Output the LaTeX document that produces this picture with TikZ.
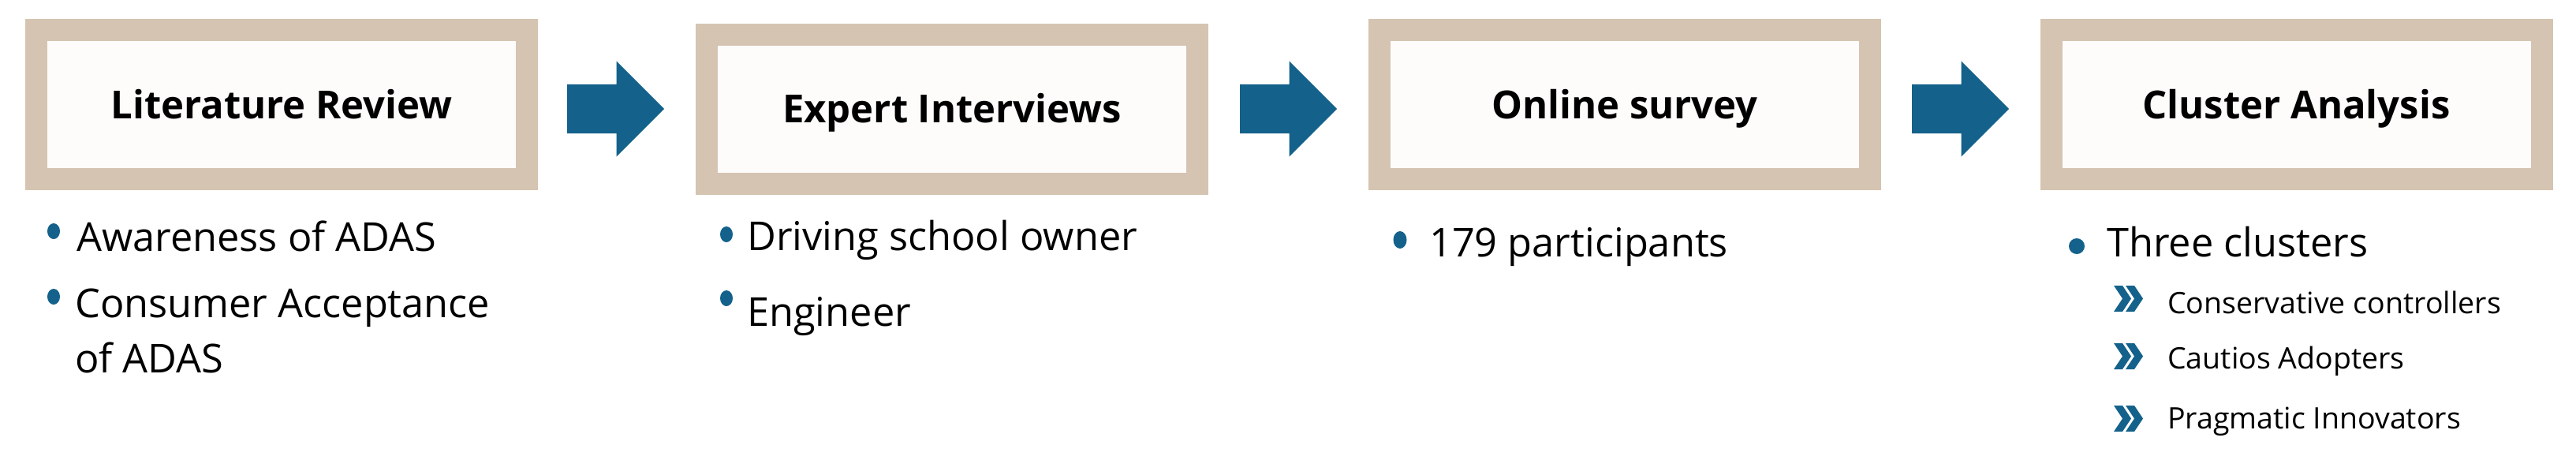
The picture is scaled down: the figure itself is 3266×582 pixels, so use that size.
\documentclass[tikz,border=0pt]{standalone}
\usepackage{fontspec}
\setmainfont{Open Sans}
\usetikzlibrary{shapes.arrows}
\definecolor{beige}{HTML}{D5C4B1}
\definecolor{paper}{HTML}{FDFCFA}
\definecolor{arrowblue}{HTML}{14628B}
\begin{document}
\begin{tikzpicture}[x=1pt,y=-1pt,
  stepbox/.style={draw=beige, line width=28pt, fill=paper, minimum width=622pt,
    minimum height=189pt, inner sep=0pt, text height=35.5pt, text depth=0pt,
    font=\fontsize{49}{59}\selectfont\bfseries},
  flowarrow/.style={shape=single arrow, fill=arrowblue, draw=none, inner xsep=0pt,
    inner ysep=31pt, single arrow head extend=29.5pt, minimum height=123pt, anchor=tail},
  item/.style={anchor=base west, inner sep=0pt, font=\fontsize{50.5}{70}\selectfont},
  subitem/.style={anchor=base west, inner sep=0pt, font=\fontsize{37.5}{44}\selectfont},
  dot/.style={fill=arrowblue},
  chev/.pic={
    \fill[arrowblue] (0,0) -- (11,0) -- (22,16.5) -- (11,33) -- (0,33) -- (11,16.5) -- cycle;
    \fill[arrowblue] (15,0) -- (26,0) -- (37,16.5) -- (26,33) -- (15,33) -- (26,16.5) -- cycle;
  }]
\fill[white] (0,0) rectangle (3266,582);
\useasboundingbox (0,0) rectangle (3266,582);

% step boxes
\node[stepbox] (b1) at (357,132.5) {Literature Review};
\node[stepbox] (b2) at (1207,138) {Expert Interviews};
\node[stepbox] (b3) at (2060,132.5) {Online survey};
\node[stepbox] (b4) at (2911.5,132.5) {Cluster Analysis};

% block arrows
\node[flowarrow] (a1) at (719,138) {};
\node[flowarrow] (a2) at (1572,138) {};
\node[flowarrow] (a3) at (2424,138) {};

% box 1 items
\fill[dot] (68,293) ellipse [x radius=8, y radius=10];
\node[item] (t11) at (97,318) {Awareness of ADAS};
\fill[dot] (68,376) ellipse [x radius=8, y radius=10];
\node[item] (t12) at (95,402) {\begin{tabular}[t]{@{}l@{}}Consumer Acceptance\\of ADAS\end{tabular}};

% box 2 items
\fill[dot] (921,297) ellipse [x radius=8, y radius=10];
\node[item] (t21) at (947,317) {Driving school owner};
\fill[dot] (921,378) ellipse [x radius=8, y radius=10];
\node[item] (t22) at (947,413) {Engineer};

% box 3 items
\fill[dot] (1775,304) ellipse [x radius=8.5, y radius=11];
\node[item] (t31) at (1812,325) {179 participants};

% box 4 items
\fill[dot] (2633,312) circle [radius=10];
\node[item] (t41) at (2671,325) {Three clusters};
\pic at (2680,362) {chev};
\node[subitem] (s1) at (2748,397) {Conservative controllers};
\pic at (2680,435) {chev};
\node[subitem] (s2) at (2748,467) {Cautios Adopters};
\pic at (2680,514) {chev};
\node[subitem] (s3) at (2748,543) {Pragmatic Innovators};
\end{tikzpicture}
\end{document}
